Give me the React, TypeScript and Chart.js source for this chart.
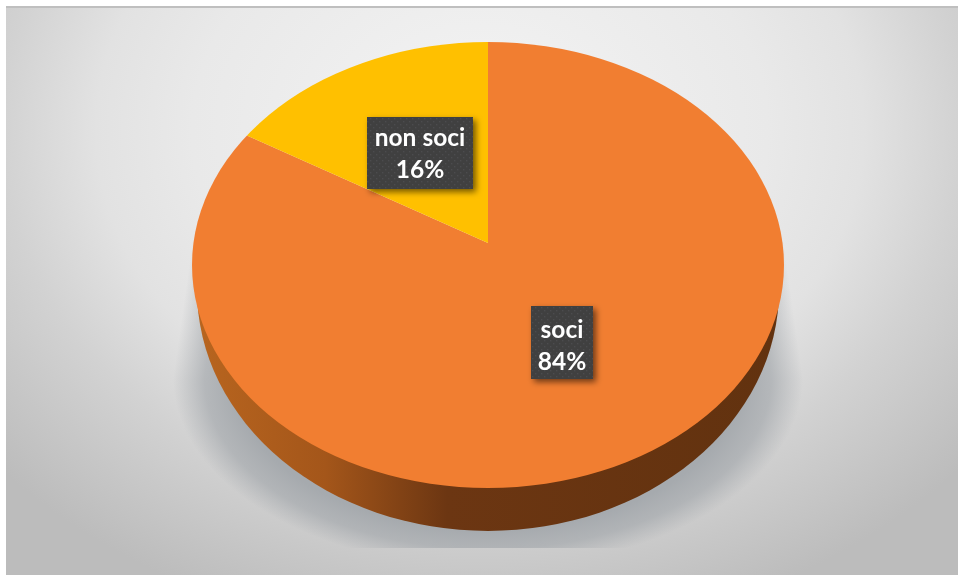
import React, { useEffect, useRef } from "react";
import { Chart, registerables } from "chart.js";

Chart.register(...registerables);

const categories = ["soci", "non soci"];
const shares = [84, 16];
const sliceColors = ["#f17e31", "#ffc000"];

// Projection of the round pie on to its tilted plane (ratios of the pie radius).
const R = 240;
const TILT = { x: 296 / R, up: 208 / R, down: 245 / R, overscan: 1.3 };
const RIM = { rx: 296 / R, ry: 223 / R, dy: 22 / R };
const SIDE = { rx: 291 / R, ry: 241 / R, dy: 47 / R };
const LABEL_BOXES: Record<string, { x0: number; y0: number; x1: number; y1: number; dy: number }> = {
  soci: { x0: 531, y0: 306, x1: 593, y1: 379, dy: 3.5 },
  "non soci": { x0: 367, y0: 117, x1: 473, y1: 189, dy: 1 },
};
const FRAME = { x0: 6, y0: 6, x1: 958, y1: 575 };
const SHADOW = { fanTop: 296, rx: 315, ry: 190, fanHeight: 135, floor: 548 };

function dotPattern(ctx: CanvasRenderingContext2D) {
  const c = document.createElement("canvas");
  c.width = 6;
  c.height = 6;
  const p = c.getContext("2d")!;
  p.fillStyle = "#404040";
  p.fillRect(0, 0, 6, 6);
  p.fillStyle = "#4c4c4e";
  p.fillRect(1, 1, 1.4, 1.4);
  p.fillRect(4, 4, 1.4, 1.4);
  return ctx.createPattern(c, "repeat")!;
}

function shadowStops(g: CanvasGradient, ranged: boolean) {
  const map = (t: number) => (ranged ? (t - 0.8) / 0.2 : t);
  if (!ranged) g.addColorStop(0, "rgba(166,170,174,1)");
  g.addColorStop(map(0.8), "rgba(166,170,174,1)");
  g.addColorStop(map(0.9), "rgba(166,170,174,0.72)");
  g.addColorStop(map(1), "rgba(166,170,174,0)");
}

const tiltedPie = {
  id: "tiltedPie",
  beforeDraw(chart: any) {
    const { ctx } = chart;
    ctx.save();
    ctx.fillStyle = "#ffffff";
    ctx.fillRect(0, 0, chart.width, chart.height);
    const w = FRAME.x1 - FRAME.x0;
    const h = FRAME.y1 - FRAME.y0;
    ctx.beginPath();
    ctx.rect(FRAME.x0, FRAME.y0, w, h);
    ctx.clip();
    ctx.translate(480, 130);
    ctx.scale(1, 0.8);
    const g = ctx.createRadialGradient(0, 0, 0, 0, 0, 640);
    g.addColorStop(0, "#f4f4f4");
    g.addColorStop(0.45, "#e9e9e9");
    g.addColorStop(0.6, "#e2e2e2");
    g.addColorStop(0.75, "#d2d2d2");
    g.addColorStop(1, "#bcbcbc");
    ctx.fillStyle = g;
    ctx.fillRect(-600, -400, 1200, 1000);
    ctx.restore();
    ctx.fillStyle = "#bfbfbf";
    ctx.fillRect(FRAME.x0, FRAME.y0, w, 2);
  },
  beforeDatasetsDraw(chart: any) {
    const { ctx } = chart;
    const arcs = chart.getDatasetMeta(0).data;
    const { x: cx, y: cy, outerRadius: r } = arcs[0];

    // cast shadow: side fans, row by row, then the soft ground ellipse
    const shY = cy + SHADOW.fanHeight;
    for (let row = 0; row < SHADOW.fanHeight; row++) {
      const half = SHADOW.fanTop + ((SHADOW.rx - SHADOW.fanTop) * row) / SHADOW.fanHeight;
      for (const side of [-1, 1]) {
        const a = cx + side * half * 0.8;
        const b = cx + side * half;
        const g = ctx.createLinearGradient(a, 0, b, 0);
        shadowStops(g, true);
        ctx.fillStyle = g;
        ctx.fillRect(Math.min(a, b), cy + row, Math.abs(b - a), 1);
      }
      ctx.fillStyle = "rgba(166,170,174,1)";
      ctx.fillRect(cx - half * 0.8, cy + row, half * 1.6, 1);
    }

    ctx.save();
    ctx.beginPath();
    ctx.rect(0, shY, chart.width, SHADOW.floor - shY);
    ctx.clip();
    ctx.translate(cx, shY);
    ctx.scale(SHADOW.rx, SHADOW.ry);
    const rg = ctx.createRadialGradient(0, 0, 0, 0, 0, 1);
    shadowStops(rg, false);
    ctx.fillStyle = rg;
    ctx.fillRect(-1, 0, 2, 1);
    ctx.restore();

    // side wall
    ctx.save();
    const sx = r * SIDE.rx;
    const g = ctx.createLinearGradient(cx - sx, 0, cx + sx, 0);
    g.addColorStop(0, "#b8651f");
    g.addColorStop(0.22, "#a4561a");
    g.addColorStop(0.43, "#6c3612");
    g.addColorStop(1, "#62320f");
    ctx.fillStyle = g;
    ctx.beginPath();
    ctx.ellipse(cx, cy + r * SIDE.dy, sx, r * SIDE.ry, 0, 0, Math.PI);
    ctx.closePath();
    ctx.fill();
    ctx.restore();

    // top face: the projected pie, trimmed by the rim ellipse
    ctx.save();
    ctx.beginPath();
    ctx.ellipse(cx, cy + r * RIM.dy, r * RIM.rx, r * RIM.ry, 0, 0, Math.PI * 2);
    ctx.clip();
    const halves = [
      { k: TILT.up, y: 0, h: cy },
      { k: TILT.down, y: cy, h: chart.height - cy },
    ];
    for (const half of halves) {
      ctx.save();
      ctx.beginPath();
      ctx.rect(0, half.y, chart.width, half.h);
      ctx.clip();
      ctx.translate(cx, cy);
      ctx.scale(TILT.x * TILT.overscan, half.k * TILT.overscan);
      ctx.translate(-cx, -cy);
      arcs.forEach((a: any) => a.draw(ctx));
      ctx.restore();
    }
    ctx.restore();
    return false;
  },
  afterDraw(chart: any) {
    const { ctx } = chart;
    const total = shares.reduce((s, v) => s + v, 0);
    categories.forEach((name, i) => {
      const b = LABEL_BOXES[name];
      ctx.save();
      ctx.shadowColor = "rgba(0,0,0,0.55)";
      ctx.shadowBlur = 6;
      ctx.shadowOffsetX = 3;
      ctx.shadowOffsetY = 3;
      ctx.fillStyle = dotPattern(ctx);
      ctx.fillRect(b.x0, b.y0, b.x1 - b.x0, b.y1 - b.y0);
      ctx.restore();
      const mx = (b.x0 + b.x1) / 2;
      const my = (b.y0 + b.y1) / 2 + b.dy;
      ctx.save();
      ctx.fillStyle = "#ffffff";
      ctx.font = 'bold 24.5px Lato, "Open Sans", sans-serif';
      ctx.textAlign = "center";
      ctx.textBaseline = "middle";
      ctx.fillText(name, mx, my - 16);
      ctx.fillText(`${Math.round((shares[i] / total) * 100)}%`, mx, my + 16);
      ctx.restore();
    });
  },
};

export default function App() {
  const ref = useRef<HTMLCanvasElement>(null);
  useEffect(() => {
    document.body.style.margin = "0";
    const chart = new Chart(ref.current!, {
      type: "pie",
      data: {
        labels: categories,
        datasets: [{ data: shares, backgroundColor: sliceColors, borderWidth: 0 }],
      },
      options: {
        responsive: false,
        animation: false,
        layout: { padding: { top: 243 - R, bottom: 580 - 243 - R, left: 488 - R, right: 960 - 488 - R } },
        plugins: { legend: { display: false }, tooltip: { enabled: false } },
      },
      plugins: [tiltedPie],
    });
    return () => chart.destroy();
  }, []);
  return <canvas ref={ref} width={960} height={580} style={{ display: "block" }} />;
}
